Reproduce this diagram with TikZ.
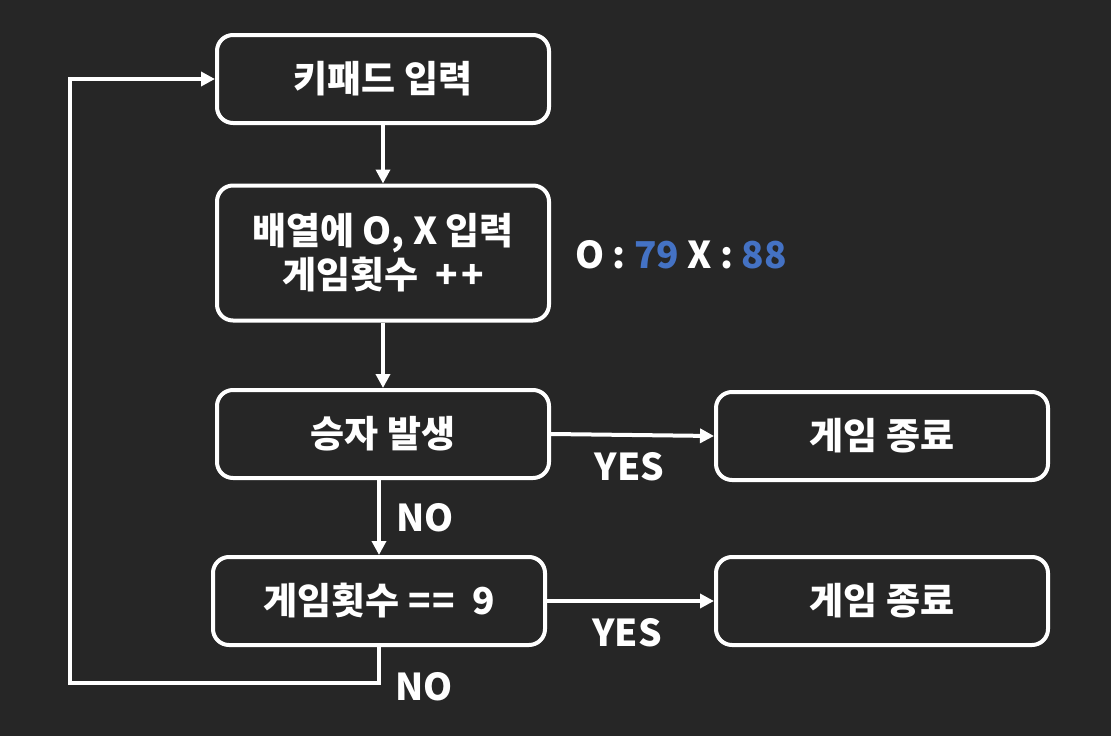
\documentclass[tikz,border=0pt]{standalone}
\usepackage{fontspec}
\setmainfont{Noto Sans CJK KR}
\usetikzlibrary{arrows.meta}
\definecolor{bgdark}{HTML}{262626}
\definecolor{numblue}{HTML}{4472C4}

\begin{document}
\begin{tikzpicture}[x=1pt,y=-1pt,
		box/.style={draw=white,line width=4pt,rounded corners=16pt,minimum width=332pt,minimum height=88pt,text=white,align=center,font=\bfseries\fontsize{37}{44}\selectfont},
		link/.style={draw=white,line width=4pt,-{Triangle[length=14pt,width=14pt]}},
		lbl/.style={text=white,font=\bfseries\fontsize{37}{42}\selectfont}]
		\fill[bgdark] (0,0) rectangle (1111,736);
		\useasboundingbox (0,0) rectangle (1111,736);
		\node[box] (keypad) at (383,79) {키패드\ 입력};
		\node[box,minimum height=135pt] (store) at (383,253) {배열에 O, X 입력\\게임횟수\ \ +\kern3pt+};
		\node[box] (win) at (383,434) {승자\ 발생};
		\node[box] (turn) at (379,601) {게임횟수\ =\kern2pt=\ \ 9};
		\node[box] (endA) at (882,436) {게임\ 종료};
		\node[box] (endB) at (882,601) {게임\ 종료};
		\node[lbl] (score) at (681,255) {O\ :\ \textcolor{numblue}{79}\ X\ :\ \textcolor{numblue}{88}};
		\draw[link] (keypad) -- (store);
		\draw[link] (store) -- (win);
		\draw[link] (win.east) -- (endA.west) node[lbl,pos=0.48,below=12pt] (yesA) {YES};
		\draw[link] (turn.north |- win.south) -- (turn.north) node[lbl,midway,right=12pt] (noA) {NO};
		\draw[link] (turn.east) -- (endB.west) node[lbl,pos=0.48,below=12pt] (yesB) {YES};
		\coordinate (back) at (70,683);
		\draw[link] (turn.south) |- (back) |- (keypad.west);
		\node[lbl] (noB) at (424,687) {NO};
	\end{tikzpicture}
\end{document}
